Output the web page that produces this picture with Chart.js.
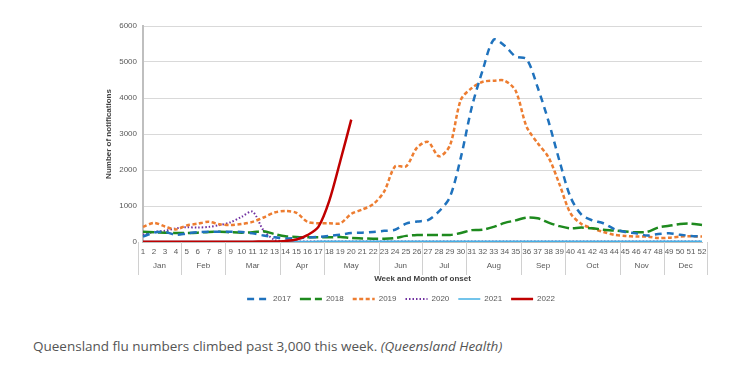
<!DOCTYPE html>
<html>
<head>
<meta charset="utf-8">
<script src="https://cdn.jsdelivr.net/npm/chart.js@4"></script>
<style>
  body { margin: 0; background: #fff; width: 745px; height: 372px; overflow: hidden; position: relative; }
  #wrap { position: absolute; left: 0; top: 0; width: 745px; height: 320px; }
  #caption { position: absolute; left: 33px; top: 337px; font-family: "Open Sans", sans-serif; font-size: 13.5px; color: #555; white-space: nowrap; }
</style>
</head>
<body>
<div id="wrap"><canvas id="myChart"></canvas></div>
<div id="caption">Queensland flu numbers climbed past 3,000 this week. <i>(Queensland Health)</i></div>
<script>
// weken 1-52 en maandgroepen
const weken = [];
for (let i = 1; i <= 52; i++) weken.push(String(i));
const maanden = ["Jan", "Feb", "Mar", "Apr", "May", "Jun", "Jul", "Aug", "Sep", "Oct", "Nov", "Dec"];
const maandStart = [1, 5, 9, 14, 18, 23, 27, 31, 36, 40, 45, 49];
const maandEind = [4, 8, 13, 17, 22, 26, 30, 35, 39, 44, 48, 52];
const yTicks = [0, 1000, 2000, 3000, 4000, 5000, 6000];

const jaar2017 = [150, 260, 280, 200, 240, 270, 285, 285, 285, 280, 240, 180, 130, 100, 105, 120, 140, 170,
  200, 250, 260, 280, 310, 340, 510, 570, 610, 850, 1250, 2350, 3750, 4780, 5620, 5450, 5150, 5080,
  4300, 3350, 2250, 1250, 760, 600, 520, 360, 280, 240, 180, 220, 240, 200, 170, 150];
const jaar2018 = [285, 270, 260, 250, 250, 260, 280, 285, 270, 260, 270, 300, 220, 160, 140, 130, 130, 130,
  140, 110, 100, 90, 90, 110, 170, 195, 195, 195, 195, 250, 330, 340, 420, 530, 600, 680,
  660, 540, 440, 380, 400, 380, 340, 320, 290, 270, 280, 400, 450, 500, 510, 470];
const jaar2019 = [420, 530, 430, 350, 460, 510, 560, 490, 470, 500, 560, 680, 820, 860, 810, 560, 520, 520,
  520, 780, 900, 1050, 1400, 2100, 2100, 2620, 2780, 2380, 2680, 3950, 4280, 4450, 4480, 4480, 4200, 3200,
  2750, 2350, 1600, 800, 500, 380, 280, 200, 170, 150, 150, 110, 120, 150, 160, 150];
const jaar2020 = [200, 280, 310, 380, 410, 400, 420, 470, 550, 700, 840, 320, 60, 20, 15, 15, 15, 15,
  15, 15, 15, 15, 15, 15, 15, 15, 15, 15, 15, 15, 15, 15, 15, 15, 15, 15,
  15, 15, 15, 15, 12, 12, 12, 12, 12, 12, 12, 12, 12, 12, 12, 12];
const jaar2021 = [15, 15, 15, 15, 15, 15, 15, 15, 15, 15, 15, 15, 15, 15, 15, 15, 18, 18,
  18, 18, 18, 18, 18, 20, 20, 20, 20, 20, 20, 20, 20, 20, 20, 20, 20, 20,
  20, 20, 18, 18, 18, 18, 18, 18, 18, 18, 18, 18, 18, 18, 18, 18];
const jaar2022 = [10, 10, 10, 10, 10, 10, 10, 10, 10, 10, 10, 12, 15, 30, 70, 190, 420, 1150, 2250, 3400];

const tekstKleur = "#595959";
const lettertype = "'Liberation Sans', Arial, sans-serif";

// maandnamen en scheidingslijnen onder de weeknummers
const maandPlugin = {
  id: "maanden",
  afterDraw(chart) {
    const x = chart.scales.x;
    const ctx = chart.ctx;
    const halfStap = (x.getPixelForValue(1) - x.getPixelForValue(0)) / 2;
    ctx.save();
    ctx.strokeStyle = "#d0d0d0";
    ctx.lineWidth = 1;
    ctx.fillStyle = tekstKleur;
    ctx.font = "8px " + lettertype;
    ctx.textAlign = "center";
    ctx.textBaseline = "middle";
    for (let i = 0; i < maanden.length; i++) {
      const a = x.getPixelForValue(maandStart[i] - 1);
      const b = x.getPixelForValue(maandEind[i] - 1);
      ctx.fillText(maanden[i], (a + b) / 2, x.top + 24);
      const grens = [a - halfStap];
      if (i === maanden.length - 1) grens.push(b + halfStap);
      for (const g of grens) {
        const gx = Math.round(g) + 0.5;
        ctx.beginPath();
        ctx.moveTo(gx, x.top);
        ctx.lineTo(gx, x.top + 33);
        ctx.stroke();
      }
    }
    ctx.restore();
  },
};

function lijn(label, data, kleur, breedte, streep, volgorde) {
  return {
    label: label,
    data: data,
    borderColor: kleur,
    backgroundColor: kleur,
    borderWidth: breedte,
    borderDash: streep,
    pointRadius: 0,
    tension: 0.3,
    fill: false,
    order: volgorde,
  };
}

const myChart = document.getElementById("myChart");
new Chart(myChart, {
  type: "line",
  data: {
    labels: weken,
    datasets: [
      lijn("2017", jaar2017, "#1f72bd", 2.5, [7, 5], 2),
      lijn("2018", jaar2018, "#1e8a1e", 2.5, [11, 4], 3),
      lijn("2019", jaar2019, "#ed7d31", 2.5, [4, 2.5], 3),
      lijn("2020", jaar2020, "#7030a0", 2, [1.5, 2], 5),
      lijn("2021", jaar2021, "#45b0e5", 1.5, [], 4),
      lijn("2022", jaar2022, "#c00000", 2.5, [], 0),
    ],
  },
  options: {
    responsive: true,
    maintainAspectRatio: false,
    animation: false,
    layout: { padding: { left: 100, right: 43, top: 26, bottom: 7 } },
    plugins: {
      tooltip: { enabled: false },
      legend: {
        position: "bottom",
        labels: {
          usePointStyle: true,
          pointStyle: "line",
          pointStyleWidth: 22,
          padding: 9,
          color: tekstKleur,
          font: { family: lettertype, size: 8 },
          sort: (a, b) => a.datasetIndex - b.datasetIndex,
          // streepjes en lijndikte van de dataset in de legenda
          generateLabels(chart) {
            const items = Chart.defaults.plugins.legend.labels.generateLabels(chart);
            items.forEach((it) => {
              const ds = chart.data.datasets[it.datasetIndex];
              it.lineDash = ds.borderDash;
              it.lineWidth = ds.borderWidth;
              it.strokeStyle = ds.borderColor;
            });
            return items;
          },
        },
      },
    },
    scales: {
      x: {
        grid: { display: false, drawTicks: false },
        border: { color: "#bfbfbf", width: 1 },
        ticks: { autoSkip: false, maxRotation: 0, padding: 5, color: tekstKleur, font: { family: lettertype, size: 8 } },
        title: { display: true, text: "Week and Month of onset", color: "#404040", font: { family: lettertype, size: 8, weight: "bold" }, padding: { top: 4, bottom: 2 } },
        afterFit(scale) { scale.height = 44; },
      },
      y: {
        min: 0,
        max: 6000,
        afterBuildTicks(scale) { scale.ticks = yTicks.map((v) => ({ value: v })); },
        grid: { color: "#d9d9d9", drawTicks: false },
        border: { color: "#bfbfbf", width: 2 },
        ticks: { padding: 6, color: tekstKleur, font: { family: lettertype, size: 8 }, callback: (v) => String(v) },
        title: { display: true, text: "Number of notifications", color: "#404040", font: { family: lettertype, size: 8, weight: "bold" } },
        afterFit(scale) { scale.width = 43; },
      },
    },
  },
  plugins: [maandPlugin],
});
</script>
</body>
</html>
